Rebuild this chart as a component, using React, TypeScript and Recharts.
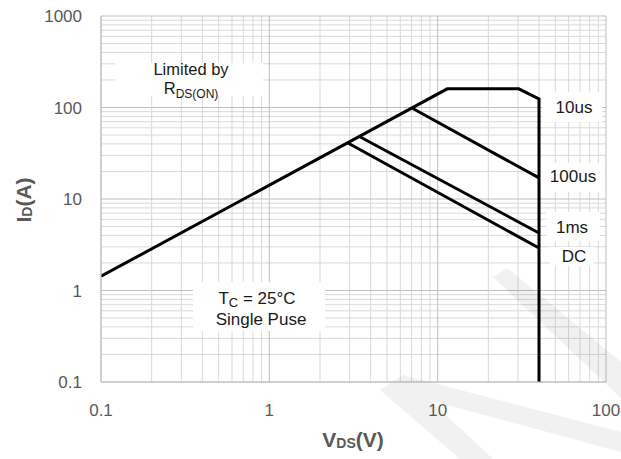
import React from 'react';
import { LineChart, Line, XAxis, YAxis, CartesianGrid } from 'recharts';

const xTicks = [0.1, 1, 10, 100];
const yTicks = [0.1, 1, 10, 100, 1000];
const xMinor = [0.2, 0.3, 0.4, 0.5, 0.6, 0.7, 0.8, 0.9, 2, 3, 4, 5, 6, 7, 8, 9, 20, 30, 40, 50, 60, 70, 80, 90];
const yMinor = [0.2, 0.3, 0.4, 0.5, 0.6, 0.7, 0.8, 0.9, 2, 3, 4, 5, 6, 7, 8, 9, 20, 30, 40, 50, 60, 70, 80, 90, 200, 300, 400, 500, 600, 700, 800, 900];

// Boundary: R_DS(ON) limit, 10us plateau, BV limit
const limitV = [0.1, 11.4, 30.3, 40, 40];
const limitI = [1.43, 160, 160, 124, 0.1];
const us100V = [7.03, 40];
const us100I = [98.8, 17];
const ms1V = [3.47, 40];
const ms1I = [47.6, 4.25];
const dcV = [2.93, 40];
const dcI = [40.9, 2.91];

const zip = (v: number[], i: number[]) => v.map((x, k) => ({ v: x, i: i[k] }));
const limitData = zip(limitV, limitI);
const us100Data = zip(us100V, us100I);
const ms1Data = zip(ms1V, ms1I);
const dcData = zip(dcV, dcI);

const FONT = '"Liberation Sans", Arial, sans-serif';
const tickStyle = { fill: '#595959', fontSize: 17, fontFamily: FONT };
const fmt = (v: number) => String(v);

const Annotations = () => (
  <g fontFamily={FONT}>
    <g fill="#000" opacity={0.05}>
      <polygon points="380,390 403,375 493,459 460,459" />
      <polygon points="403,375 621,432 621,452 385,388" />
      <polygon points="493,277 507,268 621,362 621,398" />
    </g>
    <rect x={115} y={63} width={148} height={33} fill="#fff" />
    <rect x={193} y={282} width={132} height={49} fill="#fff" />
    <rect x={542} y={92} width={60} height={30} fill="#fff" />
    <rect x={541} y={163} width={64} height={29} fill="#fff" />
    <rect x={546} y={212} width={54} height={29} fill="#fff" />
    <rect x={550} y={247} width={44} height={19} fill="#fff" />
    <text x={191} y={75} textAnchor="middle" fontSize={16.5} fill="#1a1a1a">Limited by</text>
    <text x={191} y={93.5} textAnchor="middle" fontSize={16.5} fill="#1a1a1a">
      R<tspan fontSize={12} dy={4}>DS(ON)</tspan>
    </text>
    <text x={257} y={304} textAnchor="middle" fontSize={17} fill="#1a1a1a">
      T<tspan fontSize={13} dy={3}>C</tspan><tspan dy={-3}> = 25°C</tspan>
    </text>
    <text x={261} y={325} textAnchor="middle" fontSize={17} fill="#1a1a1a">Single Puse</text>
    <text x={574} y={113} textAnchor="middle" fontSize={17} fill="#1a1a1a">10us</text>
    <text x={573} y={182} textAnchor="middle" fontSize={17} fill="#1a1a1a">100us</text>
    <text x={572} y={233} textAnchor="middle" fontSize={17} fill="#1a1a1a">1ms</text>
    <text x={574} y={262} textAnchor="middle" fontSize={17} fill="#1a1a1a">DC</text>
    <text transform="rotate(-90)" x={-200} y={31} textAnchor="middle" fontSize={21} fontWeight="bold" fill="#595959">
      I<tspan fontSize={14} dy={1}>D</tspan><tspan dy={-1}>(A)</tspan>
    </text>
    <text x={353} y={447} textAnchor="middle" fontSize={21} fontWeight="bold" fill="#595959">
      V<tspan fontSize={14} dy={1}>DS</tspan><tspan dy={-1}>(V)</tspan>
    </text>
  </g>
);

const lineProps = {
  type: 'linear' as const,
  dataKey: 'i',
  stroke: '#000',
  strokeWidth: 3,
  dot: false,
  activeDot: false,
  isAnimationActive: false,
};

export default function App() {
  return (
    <div style={{ position: 'absolute', left: 0, top: 0, width: 621, height: 459, background: '#fff' }}>
      <LineChart width={621} height={459} margin={{ top: 16, right: 15, bottom: 37, left: 41 }}>
        <CartesianGrid horizontalValues={yMinor} verticalValues={xMinor} stroke="#d9d9d9" strokeWidth={1} />
        <CartesianGrid horizontalValues={yTicks} verticalValues={xTicks} stroke="#bfbfbf" strokeWidth={1} />
        <XAxis
          type="number"
          dataKey="v"
          scale="log"
          domain={[0.1, 100]}
          ticks={xTicks}
          allowDataOverflow
          tickLine={false}
          tickSize={0}
          tickMargin={22}
          axisLine={{ stroke: '#bfbfbf' }}
          tick={tickStyle}
          tickFormatter={fmt}
          height={40}
          interval={0}
        />
        <YAxis
          type="number"
          dataKey="i"
          scale="log"
          domain={[0.1, 1000]}
          ticks={yTicks}
          allowDataOverflow
          tickLine={false}
          tickSize={0}
          tickMargin={19}
          axisLine={{ stroke: '#bfbfbf' }}
          tick={tickStyle}
          tickFormatter={fmt}
          width={60}
          interval={0}
        />
        <Annotations />
        <Line data={limitData} {...lineProps} />
        <Line data={us100Data} {...lineProps} />
        <Line data={ms1Data} {...lineProps} />
        <Line data={dcData} {...lineProps} />
      </LineChart>
    </div>
  );
}
